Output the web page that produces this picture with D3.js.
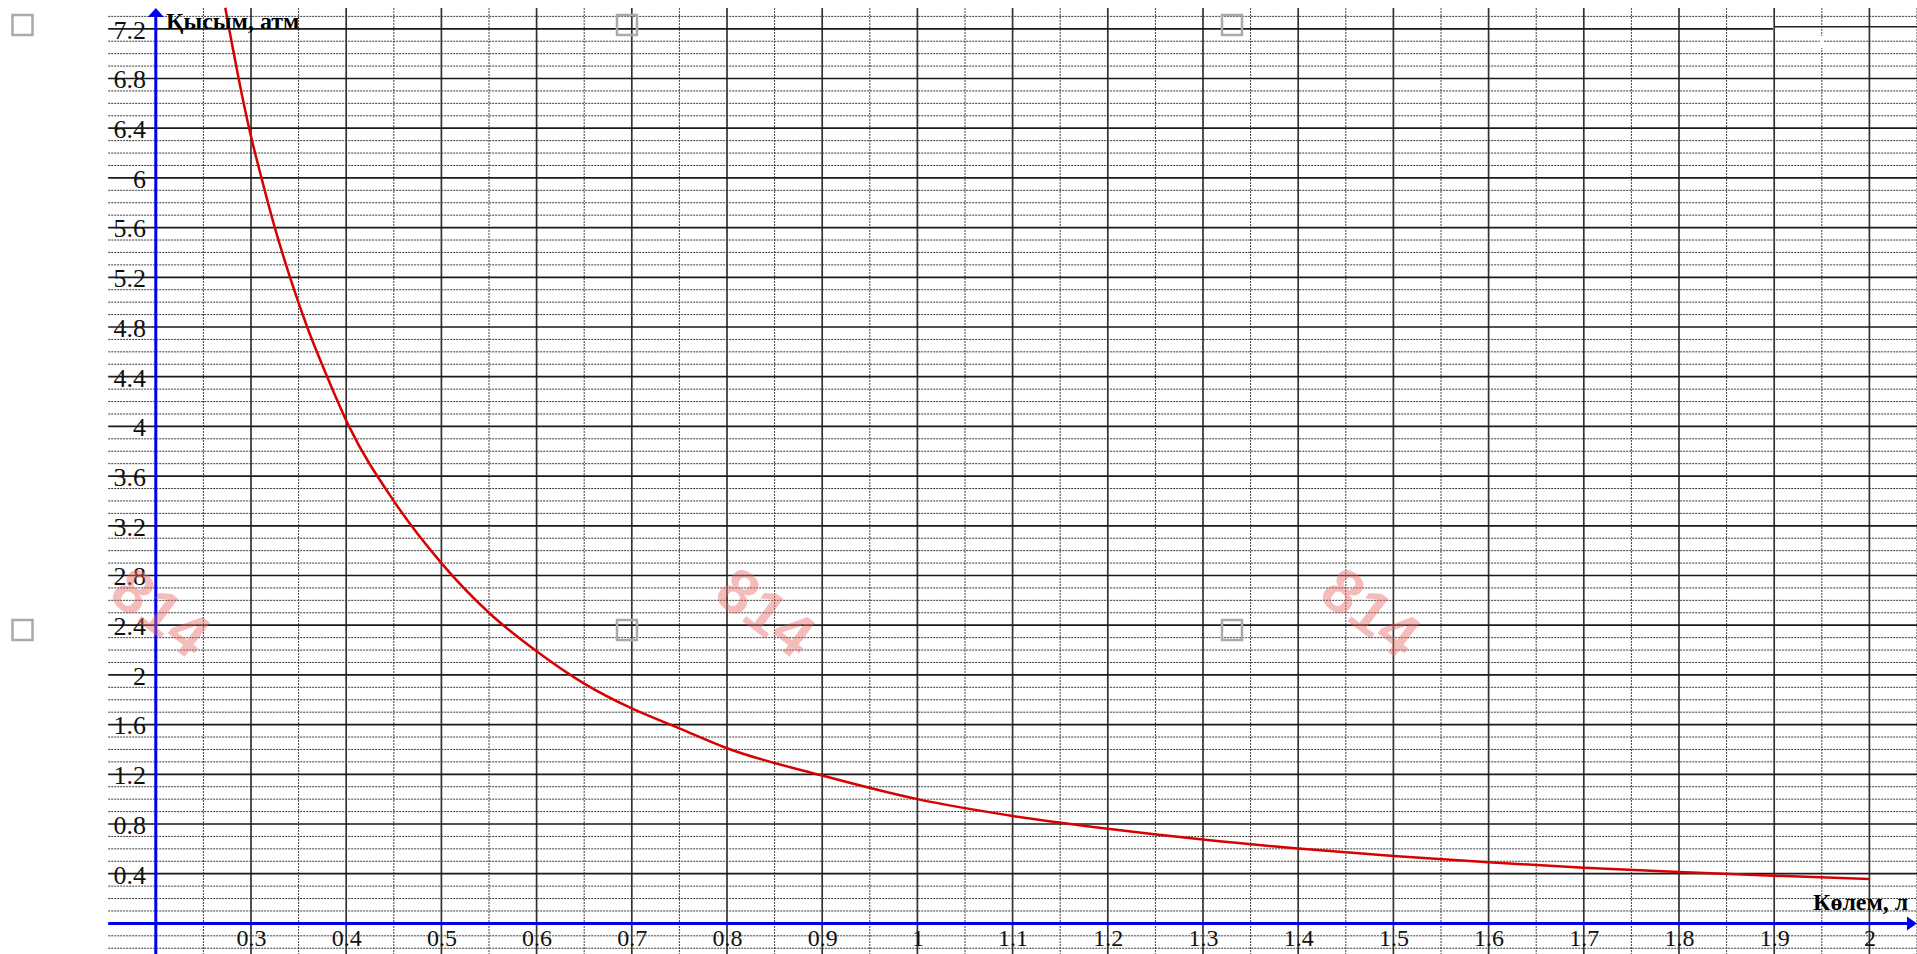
<!DOCTYPE html>
<html>
<head>
<meta charset="utf-8">
<script src="https://cdn.jsdelivr.net/npm/d3@7"></script>
<style>
  html, body { margin: 0; padding: 0; background: #fff; overflow: hidden; }
  svg { display: block; }
  .lbl text { font-family: "Liberation Serif", "Times New Roman", serif; font-size: 26px; fill: #111; }
  .xlbl text { font-size: 24px; }
  .title { font-family: "Liberation Serif", "Times New Roman", serif; font-size: 24px; font-weight: bold; fill: #000; }
</style>
</head>
<body>
<div id="chart"></div>
<script>
// values (volume in litres, pressure in atm)
var volume = [0.273, 0.277, 0.287, 0.298, 0.311, 0.325, 0.341, 0.359, 0.380, 0.403,
  0.45, 0.5, 0.55, 0.6, 0.65, 0.7, 0.75, 0.8,
  0.9, 1.0, 1.1, 1.2, 1.3, 1.4, 1.5, 1.6, 1.7, 1.8, 1.9, 2.0];
var pressure = [7.37, 7.2, 6.8, 6.4, 6.0, 5.6, 5.2, 4.8, 4.4, 4.0,
  3.4, 2.9, 2.5, 2.19, 1.93, 1.73, 1.57, 1.41,
  1.19, 1.0, 0.865, 0.762, 0.675, 0.603, 0.543, 0.492, 0.448, 0.414, 0.384, 0.357];

var xTickValues = [0.3, 0.4, 0.5, 0.6, 0.7, 0.8, 0.9, 1, 1.1, 1.2, 1.3, 1.4, 1.5, 1.6, 1.7, 1.8, 1.9, 2];
var xTickLabels = ['0.3', '0.4', '0.5', '0.6', '0.7', '0.8', '0.9', '1', '1.1', '1.2', '1.3', '1.4', '1.5', '1.6', '1.7', '1.8', '1.9', '2'];
var yTickValues = [0.4, 0.8, 1.2, 1.6, 2, 2.4, 2.8, 3.2, 3.6, 4, 4.4, 4.8, 5.2, 5.6, 6, 6.4, 6.8, 7.2];
var yTickLabels = ['0.4', '0.8', '1.2', '1.6', '2', '2.4', '2.8', '3.2', '3.6', '4', '4.4', '4.8', '5.2', '5.6', '6', '6.4', '6.8', '7.2'];

var yTitle = 'Қысым, атм';
var xTitle = 'Көлем, л';
var watermark = '814';

var W = 1917, H = 954;

var x = d3.scaleLinear().domain([0.2, 2]).range([155.8, 1869.4]);
var y = d3.scaleLinear().domain([0, 7.2]).range([923.4, 28.8]);

var gridLeft = x(0.15), gridRight = W, gridTop = 8, gridBottom = H;

var svg = d3.select('#chart').append('svg')
  .attr('width', W)
  .attr('height', H);

// grid lines
var grid = svg.append('g').attr('class', 'grid');

var vSteps = d3.range(4, 42).map(function(i) { return i * 0.05; });   // 0.2 .. 2.05
var hSteps = d3.range(-2, 74).map(function(i) { return i / 10; });    // -0.2 .. 7.3

vSteps.forEach(function(v, i) {
  var k = i + 4;
  if (k === 4) return; // blue axis
  var major = (k % 2 === 0);
  grid.append('line')
    .attr('x1', x(v)).attr('x2', x(v))
    .attr('y1', gridTop).attr('y2', gridBottom)
    .attr('stroke', major ? '#333' : '#444')
    .attr('stroke-width', major ? 1.7 : 1)
    .attr('stroke-dasharray', major ? null : '2,1');
});

hSteps.forEach(function(p, i) {
  var k = i - 2;
  if (k === 0) return; // blue axis
  var major = (k % 4 === 0);
  var x2 = gridRight;
  if (k === 72) x2 = 1773;
  grid.append('line')
    .attr('x1', gridLeft).attr('x2', x2)
    .attr('y1', y(p)).attr('y2', y(p))
    .attr('stroke', major ? '#1a1a1a' : '#3a3a3a')
    .attr('stroke-width', major ? 1.7 : 1)
    .attr('stroke-dasharray', major ? null : '2,1');
});

// small box in the top right corner
grid.append('line')
  .attr('x1', 1775).attr('x2', W)
  .attr('y1', y(7.2) - 2).attr('y2', y(7.2) - 2)
  .attr('stroke', '#222').attr('stroke-width', 1.6);
grid.append('rect')
  .attr('x', x(1.95) - 2).attr('y', 36).attr('width', 4).attr('height', 12)
  .attr('fill', '#fff');

// tick labels
svg.append('g')
  .attr('class', 'lbl')
  .attr('transform', 'translate(148,0)')
  .call(d3.axisLeft(y).tickValues(yTickValues).tickSize(0).tickPadding(2)
    .tickFormat(function(d, i) { return yTickLabels[i]; }))
  .call(function(g) { g.select('.domain').remove(); })
  .selectAll('text').attr('dy', '0.36em');

svg.append('g')
  .attr('class', 'lbl xlbl')
  .attr('transform', 'translate(0,' + y(0) + ')')
  .call(d3.axisBottom(x).tickValues(xTickValues).tickSize(0).tickPadding(6)
    .tickFormat(function(d, i) { return xTickLabels[i]; }))
  .call(function(g) { g.select('.domain').remove(); });

// the curve
var pts = volume.map(function(v, i) { return [v, pressure[i]]; });
svg.append('path')
  .datum(pts)
  .attr('fill', 'none')
  .attr('stroke', '#d80000')
  .attr('stroke-width', 2.5)
  .attr('d', d3.line()
    .x(function(d) { return x(d[0]); })
    .y(function(d) { return y(d[1]); })
    .curve(d3.curveMonotoneX));

// blue axes with arrows
var blue = '#0000ee';
svg.append('line')
  .attr('x1', gridLeft).attr('x2', W - 6)
  .attr('y1', y(0)).attr('y2', y(0))
  .attr('stroke', blue).attr('stroke-width', 3);
svg.append('path')
  .attr('d', 'M' + W + ',' + y(0) + 'L' + (W - 10) + ',' + (y(0) - 7) + 'L' + (W - 10) + ',' + (y(0) + 7) + 'Z')
  .attr('fill', blue);
svg.append('line')
  .attr('x1', x(0.2)).attr('x2', x(0.2))
  .attr('y1', H).attr('y2', gridTop + 6)
  .attr('stroke', blue).attr('stroke-width', 3);
svg.append('path')
  .attr('d', 'M' + x(0.2) + ',' + gridTop + 'L' + (x(0.2) - 8) + ',' + (gridTop + 9) + 'L' + (x(0.2) + 8) + ',' + (gridTop + 9) + 'Z')
  .attr('fill', blue);

// axis titles
svg.append('text').attr('class', 'title')
  .attr('x', 166).attr('y', 29)
  .text(yTitle);
svg.append('text').attr('class', 'title')
  .attr('x', 1813).attr('y', 910)
  .text(xTitle);

// watermarks
[161, 766, 1371].forEach(function(cx) {
  svg.append('text')
    .attr('transform', 'translate(' + cx + ',612) rotate(37)')
    .attr('text-anchor', 'middle')
    .attr('dy', '0.35em')
    .attr('font-family', 'Liberation Sans, Arial, sans-serif')
    .attr('font-weight', 'bold')
    .attr('font-size', 62)
    .attr('fill', '#e86a6a')
    .attr('fill-opacity', 0.45)
    .text(watermark);
});

// grey check boxes
[22.5, 627, 1232].forEach(function(cx) {
  [25, 630].forEach(function(cy) {
    svg.append('rect')
      .attr('x', cx - 10).attr('y', cy - 10)
      .attr('width', 20).attr('height', 20)
      .attr('fill', 'none')
      .attr('stroke', '#aaa')
      .attr('stroke-width', 2.5);
  });
});
</script>
</body>
</html>
